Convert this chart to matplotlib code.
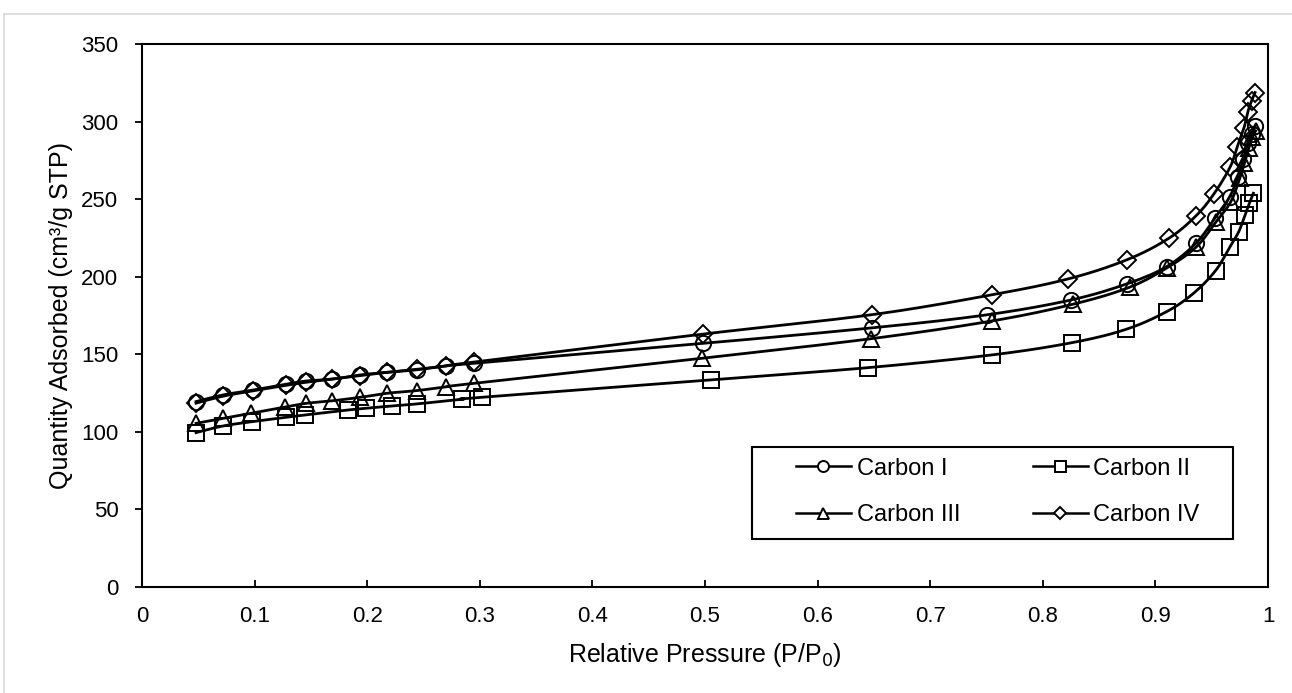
import numpy as np
import matplotlib
matplotlib.use("Agg")
import matplotlib.pyplot as plt
from matplotlib.lines import Line2D
from matplotlib.patches import Rectangle

plt.rcParams['font.family'] = ['Liberation Sans', 'DejaVu Sans']

# ---- data ----
c1_x = [0.048, 0.072, 0.099, 0.128, 0.146, 0.169, 0.194, 0.218, 0.244, 0.270, 0.295,
        0.498, 0.648, 0.750, 0.825, 0.875, 0.910, 0.936, 0.953, 0.966, 0.973, 0.978,
        0.982, 0.9855, 0.9885]
c1_y = [119.5, 123.8, 127.0, 130.7, 132.8, 134.0, 136.7, 138.4, 140.0, 142.5, 144.2,
        157.0, 167.0, 175.4, 185.0, 195.5, 206.5, 221.6, 238.0, 251.6, 264.0, 276.0,
        286.0, 292.0, 297.0]

c2_x = [0.048, 0.072, 0.098, 0.128, 0.145, 0.183, 0.199, 0.222, 0.244, 0.284, 0.302,
        0.505, 0.645, 0.755, 0.826, 0.8736, 0.910, 0.934, 0.9535, 0.966, 0.974, 0.9796,
        0.9835, 0.987]
c2_y = [99.5, 103.8, 106.6, 109.4, 110.9, 114.1, 115.2, 116.7, 118.0, 121.0, 122.3,
        133.5, 141.4, 149.6, 157.5, 166.0, 177.5, 189.4, 204.0, 219.0, 229.0, 239.8,
        247.4, 253.8]

c3_x = [0.048, 0.072, 0.097, 0.127, 0.146, 0.169, 0.194, 0.218, 0.244, 0.270, 0.295,
        0.497, 0.647, 0.755, 0.827, 0.877, 0.910, 0.936, 0.954, 0.967, 0.975, 0.979,
        0.983, 0.986, 0.989]
c3_y = [105.5, 108.7, 112.0, 116.0, 118.4, 120.0, 122.3, 124.9, 126.6, 129.0, 131.3,
        147.4, 160.0, 171.5, 182.3, 193.2, 205.6, 219.0, 235.5, 248.4, 263.5, 273.0,
        283.0, 290.0, 294.0]

c4_x = [0.048, 0.072, 0.099, 0.128, 0.146, 0.169, 0.194, 0.218, 0.244, 0.270, 0.295,
        0.498, 0.648, 0.7545, 0.8226, 0.875, 0.912, 0.936, 0.952, 0.9663, 0.9728, 0.9787,
        0.982, 0.9855, 0.9885]
c4_y = [118.5, 123.0, 126.5, 130.0, 132.0, 134.0, 136.3, 138.4, 140.3, 142.5, 145.0,
        163.0, 175.5, 188.3, 198.6, 211.0, 224.8, 239.2, 253.4, 270.6, 283.9, 296.0,
        306.0, 313.5, 318.7]

labels = ['Carbon I', 'Carbon II', 'Carbon III', 'Carbon IV']
markers = ['o', 's', '^', 'D']
xticks = [0, 0.1, 0.2, 0.3, 0.4, 0.5, 0.6, 0.7, 0.8, 0.9, 1]
xtick_labels = ['0', '0.1', '0.2', '0.3', '0.4', '0.5', '0.6', '0.7', '0.8', '0.9', '1']
yticks = [0, 50, 100, 150, 200, 250, 300, 350]

# ---- figure ----
W, H = 1292, 693
fig = plt.figure(figsize=(W / 100, H / 100), dpi=100)
L, R, T, B = 142, 1268, 44, 587
ax = fig.add_axes([L / W, 1 - B / H, (R - L) / W, (B - T) / H])
ax.set_xlim(0, 1)
ax.set_ylim(0, 350)

# figure border (light gray)
fig.add_artist(Line2D([4 / W, 1.01], [1 - 13.5 / H, 1 - 13.5 / H], color='#d9d9d9', lw=1.2,
                      transform=fig.transFigure))
fig.add_artist(Line2D([4 / W, 4 / W], [-0.01, 1 - 13.5 / H], color='#d9d9d9', lw=1.2,
                      transform=fig.transFigure))

sx = (R - L) / 1.0
sy = (B - T) / 350.0


def smooth(x, y, n=20):
    # Catmull-Rom style bezier smoothing (like Excel smoothed lines) in pixel space
    px = np.asarray(x) * sx
    py = np.asarray(y) * sy
    P = np.column_stack([px, py])
    out = []
    m = len(P)
    for i in range(m - 1):
        p0 = P[i - 1] if i > 0 else P[i]
        p1 = P[i]
        p2 = P[i + 1]
        p3 = P[i + 2] if i + 2 < m else P[i + 1]
        c1 = p1 + (p2 - p0) / 6.0
        c2 = p2 - (p3 - p1) / 6.0
        t = np.linspace(0, 1, n, endpoint=(i == m - 2))[:, None]
        seg = ((1 - t) ** 3) * p1 + 3 * ((1 - t) ** 2) * t * c1 + 3 * (1 - t) * t ** 2 * c2 + t ** 3 * p2
        out.append(seg)
    out = np.vstack(out)
    return out[:, 0] / sx, out[:, 1] / sy


series = [(c1_x, c1_y), (c2_x, c2_y), (c3_x, c3_y), (c4_x, c4_y)]
msizes = {'o': 11, 's': 11, '^': 11, 'D': 9}
handles = []
for (x, y), lab, mk in zip(series, labels, markers):
    xs, ys = smooth(x, y)
    ax.plot(xs, ys, color='black', lw=2.0, zorder=2)
    ms = msizes[mk]
    ax.plot(x, y, linestyle='none', marker=mk, markersize=ms, markerfacecolor='none',
            markeredgecolor='black', markeredgewidth=1.4, zorder=3)
    h = Line2D([], [], color='black', lw=1.8, marker=mk, markersize=ms * 0.72,
               markerfacecolor='white', markeredgecolor='black', markeredgewidth=1.4)
    handles.append(h)

for s in ax.spines.values():
    s.set_linewidth(1.5)
    s.set_color('black')

ax.set_xticks(xticks)
ax.set_xticklabels(xtick_labels)
ax.set_yticks(yticks)
ax.tick_params(axis='x', direction='in', length=5, width=1.3, labelsize=16, pad=14)
ax.tick_params(axis='y', direction='out', length=5, width=1.3, labelsize=16, pad=12)

ax.set_xlabel('Relative Pressure (P/P$_0$)', fontsize=18, labelpad=10)
ax.set_ylabel('Quantity Adsorbed (cm³/g STP)', fontsize=18, labelpad=6)

# legend frame
ax.add_patch(Rectangle(((752 - L) / (R - L), (B - 539) / (B - T)),
                       (1233 - 752) / (R - L), (539 - 447) / (B - T),
                       transform=ax.transAxes, facecolor='white', edgecolor='black',
                       lw=1.5, zorder=4))

order = [0, 2, 1, 3]
leg = ax.legend([handles[i] for i in order], [labels[i] for i in order], ncol=2,
                loc='center', bbox_to_anchor=((998 - L) / (R - L), (B - 492) / (B - T)),
                frameon=False, fontsize=17,
                handlelength=2.3, columnspacing=3.1, borderpad=0.0, labelspacing=1.05,
                handletextpad=0.25, borderaxespad=0)
leg.set_zorder(5)

fig.savefig('out.png', dpi=100)
